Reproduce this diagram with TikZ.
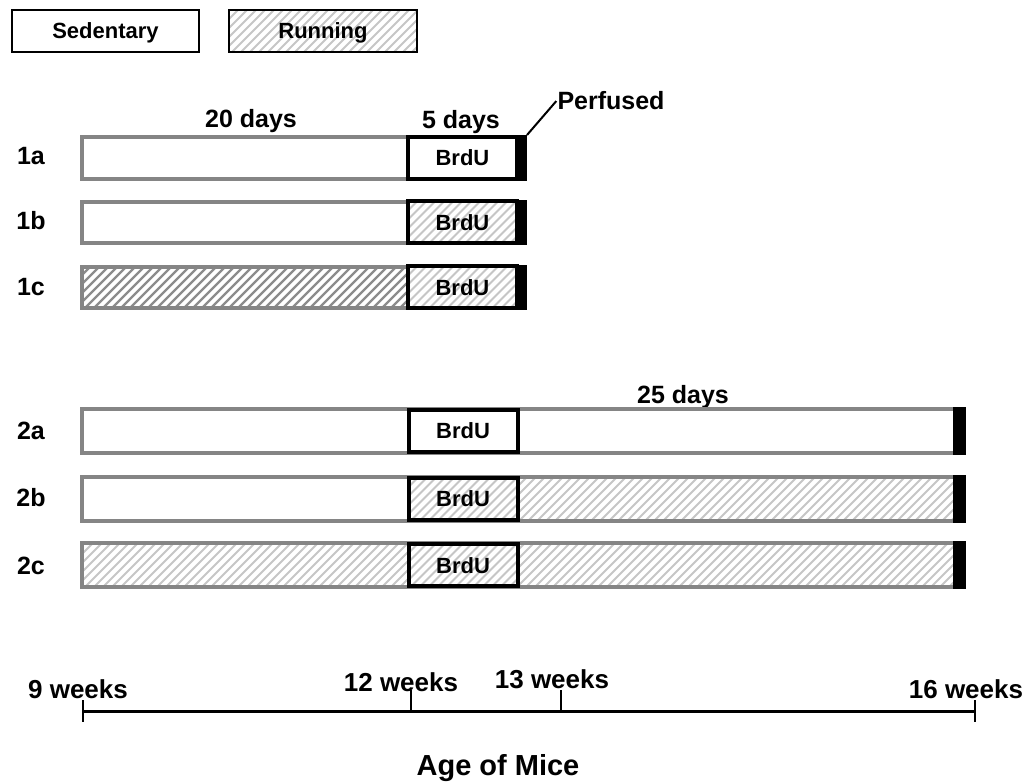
\documentclass[tikz,border=0pt]{standalone}
\usepackage{fontspec}
\setmainfont{Liberation Sans}
\definecolor{barcinza}{HTML}{858585}
\definecolor{hclara}{HTML}{C6C6C6}
\definecolor{hescura}{HTML}{8C8C8C}
\tikzset{
  barra/.style={draw=barcinza,line width=4pt,fill=white},
  corre/.style={path picture={\foreach \i in {-60,-51,...,900}
      \draw[hclara,line width=2pt] ([xshift=\i pt]path picture bounding box.south west) -- ++(60pt,60pt);}},
  correesc/.style={path picture={\foreach \i in {-60,-51,...,900}
      \draw[hescura,line width=2.3pt] ([xshift=\i pt]path picture bounding box.south west) -- ++(60pt,60pt);}},
  leg/.style={draw=black,line width=1.5pt,fill=white,minimum height=42pt,inner sep=0pt,
      text height=15pt,text depth=0pt,font=\fontsize{22}{24}\selectfont\bfseries},
  brdu/.style={draw=black,line width=4pt,fill=white,minimum width=109pt,minimum height=42pt,
      inner sep=0pt,text height=16pt,text depth=0pt,font=\fontsize{22}{24}\selectfont\bfseries},
  perf/.style={fill=black},
  rot/.style={anchor=base,inner sep=1pt,font=\fontsize{25}{28}\selectfont\bfseries},
  eixo/.style={line width=3pt},
  marca/.style={line width=2.5pt},
  sem/.style={rot,font=\fontsize{26}{28}\selectfont\bfseries},
}
\begin{document}
\begin{tikzpicture}[x=1pt,y=-1pt]
  \useasboundingbox (0,0) rectangle (1029,783);
  % legenda
  \node[leg,minimum width=187pt] (sed) at (105.5,31) {Sedentary};
  \node[leg,corre,minimum width=188pt] (run) at (323,31) {Running};
  % grupo 1
  \node[rot] (d20) at (251,128) {20 days};
  \node[rot] (d5) at (461,129) {5 days};
  \node[rot] (perfd) at (611,110) {Perfused};
  \draw[barra] (82,137) rectangle (462,179);
  \node[brdu] (b1a) at (462.5,158) {BrdU};
  \fill[perf] (516,135) rectangle (527,181);
  \coordinate (p1) at (527,135);
  \draw[line width=2pt] (p1) -- (perfd.west);
  \draw[barra] (82,202) rectangle (462,243);
  \node[brdu,corre] (b1b) at (462.5,222.5) {BrdU};
  \fill[perf] (516,200) rectangle (527,245);
  \draw[barra,correesc] (82,267) rectangle (462,308);
  \node[brdu,corre] (b1c) at (462.5,287.5) {BrdU};
  \fill[perf] (516,265) rectangle (527,310);
  \node[rot] (g1a) at (31,165) {1a};
  \node[rot] (g1b) at (31,230) {1b};
  \node[rot] (g1c) at (31,296) {1c};
  % grupo 2
  \node[rot] (d25) at (683,404) {25 days};
  \draw[barra] (82,409) rectangle (958,453);
  \node[brdu] (b2a) at (463,431) {BrdU};
  \fill[perf] (953,407) rectangle (966,455);
  \draw[barra] (82,477) rectangle (462,521);
  \draw[barra,corre] (462,477) rectangle (958,521);
  \node[brdu,corre] (b2b) at (463,499) {BrdU};
  \fill[perf] (953,475) rectangle (966,523);
  \draw[barra,corre] (82,543) rectangle (958,587);
  \node[brdu,corre] (b2c) at (463,565) {BrdU};
  \fill[perf] (953,541) rectangle (966,589);
  \node[rot] (g2a) at (31,440) {2a};
  \node[rot] (g2b) at (31,507) {2b};
  \node[rot] (g2c) at (31,574) {2c};
  % eixo
  \coordinate (a9) at (83,711);
  \coordinate (a12) at (411,711);
  \coordinate (a13) at (561,711);
  \coordinate (a16) at (975,711);
  \draw[eixo] (a9) -- (a16);
  \draw[marca] (a9) ++(0,-11) -- ++(0,22);
  \draw[marca] (a16) ++(0,-11) -- ++(0,22);
  \draw[marca] (a12) -- ++(0,-21);
  \draw[marca] (a13) -- ++(0,-21);
  \node[sem] (w9) at (78,698) {9 weeks};
  \node[sem] (w12) at (401,691) {12 weeks};
  \node[sem] (w13) at (552,688) {13 weeks};
  \node[sem] (w16) at (966,698) {16 weeks};
  \node[rot,font=\fontsize{29}{32}\selectfont\bfseries] (idade) at (498,775) {Age of Mice};
\end{tikzpicture}
\end{document}
